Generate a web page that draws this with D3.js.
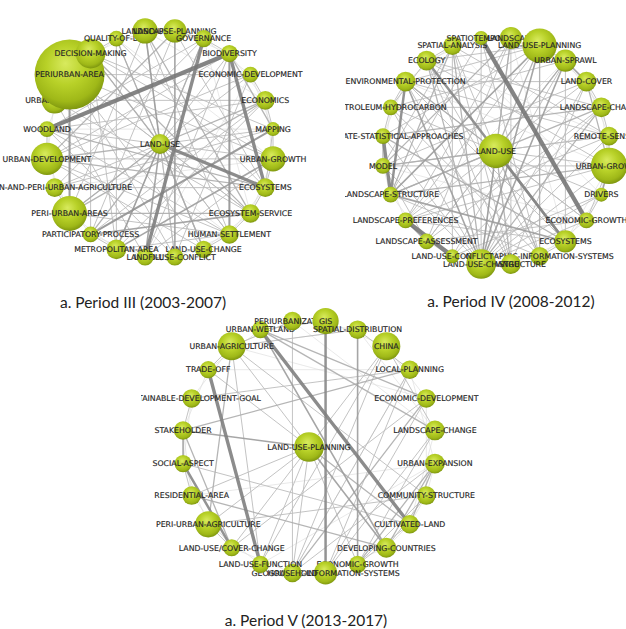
<!DOCTYPE html>
<html>
<head>
<meta charset="utf-8">
<script src="https://cdn.jsdelivr.net/npm/d3@7"></script>
<style>
  html, body { margin: 0; padding: 0; background: #fff; }
  svg { display: block; }
</style>
</head>
<body>
<svg id="chart" width="626" height="629"></svg>
<script>
// ---------- Period III (2003-2007) ----------
const periodIIIKeywords = [
  "ECOSYSTEMS", "ECOSYSTEM-SERVICE", "HUMAN-SETTLEMENT", "LAND-USE-CHANGE",
  "LAND-USE-CONFLICT", "LANDFILL", "METROPOLITAN-AREA", "PARTICIPATORY-PROCESS",
  "PERI-URBAN-AREAS", "URBAN-AND-PERI-URBAN-AGRICULTURE", "URBAN-DEVELOPMENT", "WOODLAND",
  "URBANIZATION", "PERIURBAN-AREA", "DECISION-MAKING", "QUALITY-OF-LIFE",
  "LANDSCAPE", "LAND-USE-PLANNING", "GOVERNANCE", "BIODIVERSITY",
  "ECONOMIC-DEVELOPMENT", "ECONOMICS", "MAPPING", "URBAN-GROWTH"
];
const periodIIIFrequency = [7, 7, 7, 6, 6, 6, 8, 5, 25, 7, 21, 5, 14, 100, 18, 5, 13, 11, 6, 6, 5, 7, 4, 13];
const periodIIIHub = "LAND-USE";
const periodIIIHubFrequency = 8;
const periodIIILinks = [
  ["WOODLAND", "BIODIVERSITY", 5], ["GOVERNANCE", "LANDFILL", 4], ["BIODIVERSITY", "ECOSYSTEMS", 4],
  ["LAND-USE", "ECOSYSTEMS", 4], ["BIODIVERSITY", "HUMAN-SETTLEMENT", 2.5], ["PERIURBAN-AREA", "PERI-URBAN-AREAS", 2.5],
  ["LAND-USE-PLANNING", "LAND-USE-CONFLICT", 2], ["MAPPING", "PARTICIPATORY-PROCESS", 2.5],
  ["URBAN-GROWTH", "METROPOLITAN-AREA", 2], ["ECOSYSTEM-SERVICE", "PARTICIPATORY-PROCESS", 2],
  ["LAND-USE", "METROPOLITAN-AREA", 2], ["LAND-USE", "LANDFILL", 2], ["LAND-USE", "LANDSCAPE", 2],
  ["LAND-USE", "DECISION-MAKING", 1.5], ["LAND-USE", "PERI-URBAN-AREAS", 1.5], ["LAND-USE", "URBAN-DEVELOPMENT", 1.5],
  ["LAND-USE", "LAND-USE-CHANGE", 1.5], ["LAND-USE", "GOVERNANCE", 1.5], ["LAND-USE", "ECONOMICS", 1.5],
  ["LAND-USE", "WOODLAND", 1], ["LAND-USE", "PARTICIPATORY-PROCESS", 1.5], ["LAND-USE", "LAND-USE-CONFLICT", 1],
  ["LAND-USE", "URBAN-GROWTH", 1], ["LAND-USE", "MAPPING", 1], ["LAND-USE", "BIODIVERSITY", 1],
  ["LAND-USE", "HUMAN-SETTLEMENT", 1], ["LAND-USE", "ECOSYSTEM-SERVICE", 1], ["LAND-USE", "URBAN-AND-PERI-URBAN-AGRICULTURE", 1],
  ["LAND-USE", "PERIURBAN-AREA", 1], ["LAND-USE", "QUALITY-OF-LIFE", 1],
  ["URBAN-DEVELOPMENT", "ECOSYSTEMS", 1.5], ["PERI-URBAN-AREAS", "ECONOMICS", 1.5], ["DECISION-MAKING", "ECOSYSTEM-SERVICE", 1.5],
  ["DECISION-MAKING", "HUMAN-SETTLEMENT", 1], ["QUALITY-OF-LIFE", "LAND-USE-CHANGE", 1.5], ["QUALITY-OF-LIFE", "METROPOLITAN-AREA", 1],
  ["LANDSCAPE", "ECOSYSTEM-SERVICE", 1.5], ["LANDSCAPE", "HUMAN-SETTLEMENT", 1], ["LANDSCAPE", "PERI-URBAN-AREAS", 1],
  ["LAND-USE-PLANNING", "URBAN-DEVELOPMENT", 1.5], ["LAND-USE-PLANNING", "PARTICIPATORY-PROCESS", 1], ["LAND-USE-PLANNING", "ECOSYSTEMS", 1],
  ["GOVERNANCE", "URBAN-AND-PERI-URBAN-AGRICULTURE", 1], ["GOVERNANCE", "WOODLAND", 1], ["BIODIVERSITY", "URBAN-DEVELOPMENT", 1],
  ["BIODIVERSITY", "MAPPING", 1.5], ["ECONOMIC-DEVELOPMENT", "PERI-URBAN-AREAS", 1], ["ECONOMIC-DEVELOPMENT", "URBAN-DEVELOPMENT", 1],
  ["ECONOMIC-DEVELOPMENT", "LAND-USE-CONFLICT", 1], ["ECONOMICS", "WOODLAND", 1], ["ECONOMICS", "METROPOLITAN-AREA", 1],
  ["MAPPING", "URBAN-AND-PERI-URBAN-AGRICULTURE", 1], ["MAPPING", "ECOSYSTEMS", 1], ["URBAN-GROWTH", "PERIURBAN-AREA", 1],
  ["URBAN-GROWTH", "URBAN-DEVELOPMENT", 1], ["URBAN-GROWTH", "LANDFILL", 1], ["ECOSYSTEMS", "WOODLAND", 1.5],
  ["ECOSYSTEMS", "URBAN-AND-PERI-URBAN-AGRICULTURE", 1], ["ECOSYSTEM-SERVICE", "PERI-URBAN-AREAS", 1.5], ["ECOSYSTEM-SERVICE", "URBANIZATION", 1],
  ["HUMAN-SETTLEMENT", "PERI-URBAN-AREAS", 1], ["HUMAN-SETTLEMENT", "METROPOLITAN-AREA", 1], ["LAND-USE-CHANGE", "PERIURBAN-AREA", 1],
  ["LAND-USE-CHANGE", "URBAN-DEVELOPMENT", 1], ["LAND-USE-CONFLICT", "PERIURBAN-AREA", 1], ["LAND-USE-CONFLICT", "WOODLAND", 1],
  ["LANDFILL", "URBANIZATION", 1], ["METROPOLITAN-AREA", "DECISION-MAKING", 1], ["PARTICIPATORY-PROCESS", "DECISION-MAKING", 1],
  ["DECISION-MAKING", "URBAN-GROWTH", 1], ["DECISION-MAKING", "MAPPING", 1], ["PERIURBAN-AREA", "ECONOMIC-DEVELOPMENT", 1],
  ["PERIURBAN-AREA", "ECOSYSTEM-SERVICE", 1], ["URBANIZATION", "ECONOMICS", 1], ["URBAN-DEVELOPMENT", "HUMAN-SETTLEMENT", 1],
  ["WOODLAND", "HUMAN-SETTLEMENT", 1], ["QUALITY-OF-LIFE", "ECOSYSTEMS", 1], ["LANDSCAPE", "LAND-USE-CONFLICT", 1],
  ["GOVERNANCE", "METROPOLITAN-AREA", 1], ["BIODIVERSITY", "LANDFILL", 1], ["ECONOMICS", "PARTICIPATORY-PROCESS", 1],
  ["LAND-USE-PLANNING", "GOVERNANCE", 1], ["GOVERNANCE", "BIODIVERSITY", 1], ["ECONOMIC-DEVELOPMENT", "ECONOMICS", 1],
  ["ECONOMICS", "MAPPING", 1], ["MAPPING", "URBAN-GROWTH", 1], ["URBAN-GROWTH", "ECOSYSTEMS", 1],
  ["ECOSYSTEMS", "ECOSYSTEM-SERVICE", 1], ["ECOSYSTEM-SERVICE", "HUMAN-SETTLEMENT", 1], ["HUMAN-SETTLEMENT", "LAND-USE-CHANGE", 1],
  ["METROPOLITAN-AREA", "PARTICIPATORY-PROCESS", 1], ["PERI-URBAN-AREAS", "URBAN-AND-PERI-URBAN-AGRICULTURE", 1],
  ["URBAN-DEVELOPMENT", "WOODLAND", 1], ["DECISION-MAKING", "QUALITY-OF-LIFE", 1], ["LANDSCAPE", "LAND-USE-PLANNING", 1],
  ["LAND-USE-PLANNING", "BIODIVERSITY", 0.5], ["GOVERNANCE", "ECONOMIC-DEVELOPMENT", 0.5], ["BIODIVERSITY", "ECONOMICS", 0.5],
  ["ECONOMIC-DEVELOPMENT", "MAPPING", 0.5], ["ECONOMICS", "URBAN-GROWTH", 0.5], ["URBAN-GROWTH", "ECOSYSTEM-SERVICE", 0.5],
  ["ECOSYSTEMS", "HUMAN-SETTLEMENT", 0.5], ["ECOSYSTEM-SERVICE", "LAND-USE-CHANGE", 0.5], ["HUMAN-SETTLEMENT", "LAND-USE-CONFLICT", 0.5],
  ["LAND-USE-CHANGE", "LANDFILL", 0.5], ["LAND-USE-CONFLICT", "METROPOLITAN-AREA", 0.5], ["LANDFILL", "PARTICIPATORY-PROCESS", 0.5],
  ["METROPOLITAN-AREA", "PERI-URBAN-AREAS", 0.5], ["PARTICIPATORY-PROCESS", "URBAN-AND-PERI-URBAN-AGRICULTURE", 0.5],
  ["PERI-URBAN-AREAS", "URBAN-DEVELOPMENT", 0.5], ["URBAN-AND-PERI-URBAN-AGRICULTURE", "WOODLAND", 0.5],
  ["URBAN-DEVELOPMENT", "URBANIZATION", 0.5], ["WOODLAND", "PERIURBAN-AREA", 0.5], ["URBANIZATION", "DECISION-MAKING", 0.5],
  ["PERIURBAN-AREA", "QUALITY-OF-LIFE", 0.5], ["DECISION-MAKING", "LANDSCAPE", 0.5], ["QUALITY-OF-LIFE", "LAND-USE-PLANNING", 0.5],
  ["LANDSCAPE", "GOVERNANCE", 0.5], ["LANDSCAPE", "ECONOMICS", 0.5], ["QUALITY-OF-LIFE", "URBAN-GROWTH", 0.5],
  ["GOVERNANCE", "ECOSYSTEM-SERVICE", 0.5], ["ECONOMIC-DEVELOPMENT", "LANDFILL", 0.5], ["MAPPING", "WOODLAND", 0.5],
  ["URBAN-GROWTH", "URBAN-AND-PERI-URBAN-AGRICULTURE", 0.5], ["HUMAN-SETTLEMENT", "URBANIZATION", 0.5]
];

// ---------- Period IV (2008-2012) ----------
const periodIVKeywords = [
  "DRIVERS", "ECONOMIC-GROWTH", "ECOSYSTEMS", "GEOGRAPHIC-INFORMATION-SYSTEMS",
  "INFRASTRUCTURE", "LAND-USE-CHANGE", "LAND-USE-CONFLICT", "LANDSCAPE-ASSESSMENT",
  "LANDSCAPE-PREFERENCES", "LANDSCAPE-STRUCTURE", "MODEL", "MULTIVARIATE-STATISTICAL-APPROACHES",
  "PETROLEUM-HYDROCARBON", "ENVIRONMENTAL-PROTECTION", "ECOLOGY", "SPATIAL-ANALYSIS",
  "SPATIOTEMPORAL", "LANDSCAPE", "LAND-USE-PLANNING", "URBAN-SPRAWL",
  "LAND-COVER", "LANDSCAPE-CHANGE", "REMOTE-SENSING", "URBAN-GROWTH"
];
const periodIVFrequency = [4, 5, 10, 7, 8, 18, 4, 5, 5, 5, 5, 5, 5, 8, 8, 7, 4, 10, 24, 10, 8, 8, 7, 27];
const periodIVHub = "LAND-USE";
const periodIVHubFrequency = 24;
const periodIVLinks = [
  ["SPATIOTEMPORAL", "ECONOMIC-GROWTH", 5], ["LANDSCAPE-PREFERENCES", "LAND-USE-CONFLICT", 5],
  ["MULTIVARIATE-STATISTICAL-APPROACHES", "LANDSCAPE-STRUCTURE", 4], ["ENVIRONMENTAL-PROTECTION", "LANDSCAPE-STRUCTURE", 3],
  ["ECOLOGY", "ECOSYSTEMS", 3], ["LAND-USE", "ECOSYSTEMS", 3], ["LANDSCAPE-STRUCTURE", "ECOSYSTEMS", 2],
  ["LAND-USE-PLANNING", "LANDSCAPE-STRUCTURE", 2], ["LAND-USE-CHANGE", "LAND-USE", 2], ["LAND-USE-CHANGE", "ENVIRONMENTAL-PROTECTION", 2],
  ["LAND-USE-CHANGE", "URBAN-SPRAWL", 2], ["LAND-USE-CHANGE", "LANDSCAPE-CHANGE", 1.5], ["LAND-USE-CHANGE", "LAND-USE-PLANNING", 2],
  ["LAND-USE-CHANGE", "SPATIAL-ANALYSIS", 1.5], ["LAND-USE-CHANGE", "ECOLOGY", 1.5], ["LANDSCAPE-CHANGE", "MULTIVARIATE-STATISTICAL-APPROACHES", 1.5],
  ["LANDSCAPE-CHANGE", "PETROLEUM-HYDROCARBON", 1], ["URBAN-SPRAWL", "LAND-COVER", 2], ["URBAN-GROWTH", "DRIVERS", 2],
  ["URBAN-GROWTH", "LAND-COVER", 1.5], ["URBAN-GROWTH", "LANDSCAPE-STRUCTURE", 1.5], ["URBAN-GROWTH", "MODEL", 1],
  ["LAND-USE", "LANDSCAPE", 1.5], ["LAND-USE", "LAND-USE-PLANNING", 1.5], ["LAND-USE", "URBAN-SPRAWL", 1.5],
  ["LAND-USE", "MODEL", 1.5], ["LAND-USE", "LANDSCAPE-STRUCTURE", 1.5], ["LAND-USE", "ENVIRONMENTAL-PROTECTION", 1.5],
  ["LAND-USE", "GEOGRAPHIC-INFORMATION-SYSTEMS", 1.5], ["LAND-USE", "INFRASTRUCTURE", 1.5], ["LAND-USE", "REMOTE-SENSING", 1],
  ["LAND-USE", "URBAN-GROWTH", 1], ["LAND-USE", "LANDSCAPE-ASSESSMENT", 1], ["LAND-USE", "SPATIAL-ANALYSIS", 1],
  ["LAND-USE", "ECONOMIC-GROWTH", 1], ["ECOLOGY", "PETROLEUM-HYDROCARBON", 1], ["ECOLOGY", "LANDSCAPE-CHANGE", 1],
  ["ECOLOGY", "URBAN-GROWTH", 1], ["SPATIAL-ANALYSIS", "LANDSCAPE-STRUCTURE", 1.5], ["SPATIAL-ANALYSIS", "REMOTE-SENSING", 1],
  ["SPATIAL-ANALYSIS", "MODEL", 1], ["LANDSCAPE", "MODEL", 1.5], ["LANDSCAPE", "LANDSCAPE-ASSESSMENT", 1],
  ["LANDSCAPE", "INFRASTRUCTURE", 1], ["LAND-USE-PLANNING", "LANDSCAPE-PREFERENCES", 1], ["LAND-USE-PLANNING", "GEOGRAPHIC-INFORMATION-SYSTEMS", 1.5],
  ["LAND-USE-PLANNING", "MULTIVARIATE-STATISTICAL-APPROACHES", 1], ["LAND-USE-PLANNING", "ENVIRONMENTAL-PROTECTION", 1],
  ["URBAN-SPRAWL", "LANDSCAPE-ASSESSMENT", 1], ["URBAN-SPRAWL", "ECOSYSTEMS", 1], ["LAND-COVER", "LANDSCAPE-PREFERENCES", 1],
  ["LAND-COVER", "MODEL", 1], ["LAND-COVER", "INFRASTRUCTURE", 1], ["LANDSCAPE-CHANGE", "LANDSCAPE-STRUCTURE", 1.5],
  ["LANDSCAPE-CHANGE", "LAND-USE-CONFLICT", 1], ["REMOTE-SENSING", "ENVIRONMENTAL-PROTECTION", 1], ["REMOTE-SENSING", "LANDSCAPE-PREFERENCES", 1],
  ["DRIVERS", "PETROLEUM-HYDROCARBON", 1], ["DRIVERS", "LAND-USE-CONFLICT", 1], ["ECONOMIC-GROWTH", "ENVIRONMENTAL-PROTECTION", 1],
  ["ECONOMIC-GROWTH", "LANDSCAPE-ASSESSMENT", 1], ["ECOSYSTEMS", "MULTIVARIATE-STATISTICAL-APPROACHES", 1.5], ["ECOSYSTEMS", "LANDSCAPE-PREFERENCES", 1],
  ["GEOGRAPHIC-INFORMATION-SYSTEMS", "PETROLEUM-HYDROCARBON", 1], ["GEOGRAPHIC-INFORMATION-SYSTEMS", "SPATIOTEMPORAL", 1],
  ["INFRASTRUCTURE", "ECOLOGY", 1], ["INFRASTRUCTURE", "ENVIRONMENTAL-PROTECTION", 1], ["LAND-USE-CONFLICT", "SPATIAL-ANALYSIS", 1],
  ["LAND-USE-CONFLICT", "URBAN-SPRAWL", 1], ["LANDSCAPE-ASSESSMENT", "MODEL", 1], ["LANDSCAPE-PREFERENCES", "LANDSCAPE-ASSESSMENT", 2],
  ["MODEL", "MULTIVARIATE-STATISTICAL-APPROACHES", 1.5], ["PETROLEUM-HYDROCARBON", "ENVIRONMENTAL-PROTECTION", 1],
  ["PETROLEUM-HYDROCARBON", "MULTIVARIATE-STATISTICAL-APPROACHES", 1], ["ECOLOGY", "SPATIAL-ANALYSIS", 1], ["SPATIOTEMPORAL", "LANDSCAPE", 1],
  ["LANDSCAPE-CHANGE", "REMOTE-SENSING", 1], ["REMOTE-SENSING", "URBAN-GROWTH", 1], ["DRIVERS", "ECONOMIC-GROWTH", 1],
  ["ECOSYSTEMS", "GEOGRAPHIC-INFORMATION-SYSTEMS", 1], ["INFRASTRUCTURE", "LAND-USE-CHANGE", 1],
  ["LAND-USE-CHANGE", "URBAN-GROWTH", 1], ["LAND-USE-CHANGE", "LAND-COVER", 1], ["LAND-USE-CHANGE", "MODEL", 1],
  ["LAND-USE-CHANGE", "REMOTE-SENSING", 1], ["LAND-USE-CHANGE", "LANDSCAPE", 1], ["GEOGRAPHIC-INFORMATION-SYSTEMS", "LANDSCAPE-STRUCTURE", 1],
  ["URBAN-SPRAWL", "LAND-USE-PLANNING", 1], ["LAND-COVER", "LANDSCAPE-CHANGE", 1], ["URBAN-GROWTH", "ECONOMIC-GROWTH", 1],
  ["LAND-USE-CHANGE", "ECONOMIC-GROWTH", 1], ["LAND-USE-CHANGE", "DRIVERS", 1], ["LAND-USE-CHANGE", "MULTIVARIATE-STATISTICAL-APPROACHES", 1],
  ["LAND-USE-CHANGE", "PETROLEUM-HYDROCARBON", 1], ["LAND-USE-CHANGE", "SPATIOTEMPORAL", 1], ["GEOGRAPHIC-INFORMATION-SYSTEMS", "ECOLOGY", 1],
  ["INFRASTRUCTURE", "SPATIAL-ANALYSIS", 1], ["ECOSYSTEMS", "ENVIRONMENTAL-PROTECTION", 1], ["LANDSCAPE-ASSESSMENT", "LANDSCAPE-CHANGE", 1],
  ["LANDSCAPE-PREFERENCES", "URBAN-GROWTH", 1], ["MODEL", "REMOTE-SENSING", 1], ["PETROLEUM-HYDROCARBON", "URBAN-SPRAWL", 1],
  ["ENVIRONMENTAL-PROTECTION", "LAND-COVER", 1], ["ECOLOGY", "LAND-USE-PLANNING", 1], ["SPATIOTEMPORAL", "LANDSCAPE-STRUCTURE", 1],
  ["LANDSCAPE", "LANDSCAPE-PREFERENCES", 1],
  ["DRIVERS", "ECOSYSTEMS", 0.5], ["ECONOMIC-GROWTH", "GEOGRAPHIC-INFORMATION-SYSTEMS", 0.5], ["ECOSYSTEMS", "INFRASTRUCTURE", 0.5],
  ["GEOGRAPHIC-INFORMATION-SYSTEMS", "LAND-USE-CHANGE", 0.5], ["LAND-USE-CHANGE", "LANDSCAPE-ASSESSMENT", 0.5], ["LAND-USE-CONFLICT", "LANDSCAPE-ASSESSMENT", 0.5],
  ["LANDSCAPE-ASSESSMENT", "LANDSCAPE-STRUCTURE", 0.5], ["LANDSCAPE-PREFERENCES", "MODEL", 0.5], ["LANDSCAPE-STRUCTURE", "MODEL", 0.5],
  ["MODEL", "PETROLEUM-HYDROCARBON", 0.5], ["MULTIVARIATE-STATISTICAL-APPROACHES", "ENVIRONMENTAL-PROTECTION", 0.5],
  ["PETROLEUM-HYDROCARBON", "ECOLOGY", 0.5], ["ENVIRONMENTAL-PROTECTION", "SPATIAL-ANALYSIS", 0.5], ["ECOLOGY", "SPATIOTEMPORAL", 0.5],
  ["SPATIAL-ANALYSIS", "LANDSCAPE", 0.5], ["SPATIOTEMPORAL", "LAND-USE-PLANNING", 0.5], ["LANDSCAPE", "URBAN-SPRAWL", 0.5],
  ["LAND-USE-PLANNING", "LAND-COVER", 0.5], ["URBAN-SPRAWL", "LANDSCAPE-CHANGE", 0.5], ["LAND-COVER", "REMOTE-SENSING", 0.5],
  ["LANDSCAPE-CHANGE", "URBAN-GROWTH", 0.5], ["REMOTE-SENSING", "DRIVERS", 0.5], ["URBAN-GROWTH", "ECOSYSTEMS", 0.5],
  ["LANDSCAPE", "ECOSYSTEMS", 0.5], ["SPATIAL-ANALYSIS", "DRIVERS", 0.5], ["ECOLOGY", "REMOTE-SENSING", 0.5],
  ["ENVIRONMENTAL-PROTECTION", "URBAN-GROWTH", 0.5], ["MODEL", "ECONOMIC-GROWTH", 0.5], ["LANDSCAPE-PREFERENCES", "URBAN-SPRAWL", 0.5]
];

// ---------- Period V (2013-2017) ----------
const periodVKeywords = [
  "COMMUNITY-STRUCTURE", "CULTIVATED-LAND", "DEVELOPING-COUNTRIES", "ECONOMIC-GROWTH",
  "GEOGRAPHIC-INFORMATION-SYSTEMS", "HOUSEHOLD", "LAND-USE-FUNCTION", "LAND-USE/COVER-CHANGE",
  "PERI-URBAN-AGRICULTURE", "RESIDENTIAL-AREA", "SOCIAL-ASPECT", "STAKEHOLDER",
  "SUSTAINABLE-DEVELOPMENT-GOAL", "TRADE-OFF", "URBAN-AGRICULTURE", "URBAN-WETLAND",
  "PERIURBANIZATION", "GIS", "SPATIAL-DISTRIBUTION", "CHINA",
  "LOCAL-PLANNING", "ECONOMIC-DEVELOPMENT", "LANDSCAPE-CHANGE", "URBAN-EXPANSION"
];
const periodVFrequency = [7, 7, 8, 6, 11, 7, 6, 6, 14, 7, 6, 7, 7, 6, 16, 6, 7, 14, 7, 16, 7, 7, 8, 8];
const periodVHub = "LAND-USE-PLANNING";
const periodVHubFrequency = 18;
const periodVLinks = [
  ["GIS", "GEOGRAPHIC-INFORMATION-SYSTEMS", 3], ["SPATIAL-DISTRIBUTION", "ECONOMIC-GROWTH", 2],
  ["TRADE-OFF", "LAND-USE-FUNCTION", 4], ["URBAN-WETLAND", "CULTIVATED-LAND", 4], ["URBAN-WETLAND", "DEVELOPING-COUNTRIES", 2],
  ["SOCIAL-ASPECT", "LAND-USE/COVER-CHANGE", 3], ["STAKEHOLDER", "LAND-USE-PLANNING", 2], ["STAKEHOLDER", "SOCIAL-ASPECT", 2],
  ["STAKEHOLDER", "LAND-USE/COVER-CHANGE", 1.5], ["LOCAL-PLANNING", "STAKEHOLDER", 1.5], ["URBAN-WETLAND", "LANDSCAPE-CHANGE", 1.5],
  ["URBAN-EXPANSION", "ECONOMIC-GROWTH", 1.5], ["URBAN-EXPANSION", "DEVELOPING-COUNTRIES", 1.5], ["URBAN-EXPANSION", "HOUSEHOLD", 1],
  ["URBAN-EXPANSION", "CULTIVATED-LAND", 1.5], ["ECONOMIC-DEVELOPMENT", "HOUSEHOLD", 1.5], ["ECONOMIC-DEVELOPMENT", "GEOGRAPHIC-INFORMATION-SYSTEMS", 1],
  ["LAND-USE-PLANNING", "DEVELOPING-COUNTRIES", 2], ["LAND-USE-PLANNING", "CULTIVATED-LAND", 1.5], ["LAND-USE-PLANNING", "ECONOMIC-GROWTH", 1],
  ["LAND-USE-PLANNING", "URBAN-AGRICULTURE", 1], ["LAND-USE-PLANNING", "PERI-URBAN-AGRICULTURE", 1], ["LAND-USE-PLANNING", "LAND-USE-FUNCTION", 1],
  ["LAND-USE-PLANNING", "HOUSEHOLD", 1], ["LAND-USE-PLANNING", "CHINA", 1], ["LAND-USE-PLANNING", "RESIDENTIAL-AREA", 1],
  ["LAND-USE-PLANNING", "LAND-USE/COVER-CHANGE", 1], ["LAND-USE-PLANNING", "TRADE-OFF", 1], ["RESIDENTIAL-AREA", "DEVELOPING-COUNTRIES", 1.5],
  ["URBAN-AGRICULTURE", "PERI-URBAN-AGRICULTURE", 1.5], ["URBAN-AGRICULTURE", "LAND-USE-FUNCTION", 1], ["URBAN-AGRICULTURE", "COMMUNITY-STRUCTURE", 1],
  ["SUSTAINABLE-DEVELOPMENT-GOAL", "STAKEHOLDER", 1], ["SUSTAINABLE-DEVELOPMENT-GOAL", "LOCAL-PLANNING", 1],
  ["PERI-URBAN-AGRICULTURE", "COMMUNITY-STRUCTURE", 1], ["PERI-URBAN-AGRICULTURE", "LAND-USE/COVER-CHANGE", 1],
  ["CHINA", "LAND-USE-FUNCTION", 1], ["CHINA", "HOUSEHOLD", 1], ["CHINA", "LANDSCAPE-CHANGE", 1], ["LOCAL-PLANNING", "HOUSEHOLD", 1],
  ["LOCAL-PLANNING", "GEOGRAPHIC-INFORMATION-SYSTEMS", 1], ["LANDSCAPE-CHANGE", "ECONOMIC-GROWTH", 1],
  ["LANDSCAPE-CHANGE", "GEOGRAPHIC-INFORMATION-SYSTEMS", 1], ["COMMUNITY-STRUCTURE", "ECONOMIC-GROWTH", 1],
  ["COMMUNITY-STRUCTURE", "DEVELOPING-COUNTRIES", 1], ["CULTIVATED-LAND", "ECONOMIC-GROWTH", 1], ["SOCIAL-ASPECT", "RESIDENTIAL-AREA", 1],
  ["SOCIAL-ASPECT", "CULTIVATED-LAND", 1], ["TRADE-OFF", "URBAN-AGRICULTURE", 1], ["PERIURBANIZATION", "HOUSEHOLD", 1],
  ["PERIURBANIZATION", "URBAN-AGRICULTURE", 1], ["SPATIAL-DISTRIBUTION", "URBAN-AGRICULTURE", 1], ["GIS", "URBAN-WETLAND", 1],
  ["SPATIAL-DISTRIBUTION", "LOCAL-PLANNING", 1], ["ECONOMIC-DEVELOPMENT", "LAND-USE/COVER-CHANGE", 1], ["URBAN-WETLAND", "ECONOMIC-DEVELOPMENT", 1.5],
  ["GIS", "CHINA", 0.5], ["SPATIAL-DISTRIBUTION", "LANDSCAPE-CHANGE", 0.5], ["CHINA", "ECONOMIC-DEVELOPMENT", 0.5],
  ["LOCAL-PLANNING", "URBAN-EXPANSION", 0.5], ["ECONOMIC-DEVELOPMENT", "COMMUNITY-STRUCTURE", 0.5], ["LANDSCAPE-CHANGE", "CULTIVATED-LAND", 0.5],
  ["URBAN-EXPANSION", "COMMUNITY-STRUCTURE", 0.5], ["COMMUNITY-STRUCTURE", "CULTIVATED-LAND", 0.5], ["CULTIVATED-LAND", "DEVELOPING-COUNTRIES", 0.5],
  ["DEVELOPING-COUNTRIES", "GEOGRAPHIC-INFORMATION-SYSTEMS", 0.5], ["ECONOMIC-GROWTH", "HOUSEHOLD", 0.5], ["HOUSEHOLD", "LAND-USE/COVER-CHANGE", 0.5],
  ["LAND-USE-FUNCTION", "PERI-URBAN-AGRICULTURE", 0.5], ["LAND-USE/COVER-CHANGE", "RESIDENTIAL-AREA", 0.5], ["PERI-URBAN-AGRICULTURE", "SOCIAL-ASPECT", 0.5],
  ["RESIDENTIAL-AREA", "STAKEHOLDER", 0.5], ["SOCIAL-ASPECT", "SUSTAINABLE-DEVELOPMENT-GOAL", 0.5], ["STAKEHOLDER", "TRADE-OFF", 0.5],
  ["SUSTAINABLE-DEVELOPMENT-GOAL", "URBAN-AGRICULTURE", 0.5], ["TRADE-OFF", "URBAN-WETLAND", 0.5], ["URBAN-AGRICULTURE", "PERIURBANIZATION", 0.5],
  ["URBAN-WETLAND", "GIS", 0.5], ["PERIURBANIZATION", "SPATIAL-DISTRIBUTION", 0.5], ["URBAN-AGRICULTURE", "SPATIAL-DISTRIBUTION", 0.5],
  ["URBAN-AGRICULTURE", "ECONOMIC-DEVELOPMENT", 0.5], ["TRADE-OFF", "LOCAL-PLANNING", 0.5], ["PERIURBANIZATION", "LANDSCAPE-CHANGE", 0.5],
  ["RESIDENTIAL-AREA", "URBAN-EXPANSION", 0.5], ["LAND-USE-FUNCTION", "URBAN-EXPANSION", 0.5], ["HOUSEHOLD", "LOCAL-PLANNING", 0.5]
];

const panelTitles = ["a. Period III (2003-2007)", "a. Period IV (2008-2012)", "a. Period V (2013-2017)"];

// ---------- layout ----------
const panels = [
  { title: panelTitles[0], keywords: periodIIIKeywords, freq: periodIIIFrequency, hub: periodIIIHub, hubFreq: periodIIIHubFrequency,
    links: periodIIILinks, cx: 160, cy: 144, R: 114, clip: [0, 0, 322, 278], tx: 143, ty: 308 },
  { title: panelTitles[1], keywords: periodIVKeywords, freq: periodIVFrequency, hub: periodIVHub, hubFreq: periodIVHubFrequency,
    links: periodIVLinks, cx: 496, cy: 151, R: 114, clip: [345, 0, 281, 282], tx: 511, ty: 307 },
  { title: panelTitles[2], keywords: periodVKeywords, freq: periodVFrequency, hub: periodVHub, hubFreq: periodVHubFrequency,
    links: periodVLinks, cx: 309, cy: 447, R: 127, clip: [141, 303, 338, 289], tx: 306, ty: 626 }
];

const svg = d3.select("#chart");
const defs = svg.append("defs");

const grad = defs.append("radialGradient")
  .attr("id", "sphere").attr("cx", "46%").attr("cy", "40%").attr("r", "62%")
  .attr("fx", "44%").attr("fy", "34%");
grad.append("stop").attr("offset", "0%").attr("stop-color", "#d8ea5e");
grad.append("stop").attr("offset", "45%").attr("stop-color", "#b8d128");
grad.append("stop").attr("offset", "80%").attr("stop-color", "#9fb818");
grad.append("stop").attr("offset", "100%").attr("stop-color", "#7a920e");

const radius = d3.scaleSqrt().domain([0, 100]).range([0, 35]);
const linkWidth = d3.scaleLinear().domain([0.5, 1, 2, 3, 5]).range([0.7, 1.0, 1.6, 2.5, 4.3]);
const linkColor = d3.scaleLinear().domain([0.5, 1, 2, 3, 5])
  .range(["#dcdcdc", "#bdbdbd", "#9c9c9c", "#878787", "#777777"]);

panels.forEach((p, pi) => {
  const n = p.keywords.length;
  // clockwise ring, angle in degrees measured from 12 o'clock
  const angle = d3.scaleLinear().domain([0, n]).range([112.5, 472.5]);

  const nodes = p.keywords.map((k, i) => {
    const a = angle(i) * Math.PI / 180;
    return { id: k, freq: p.freq[i], x: p.cx + p.R * Math.sin(a), y: p.cy - p.R * Math.cos(a) };
  });
  const hub = { id: p.hub, freq: p.hubFreq, x: p.cx, y: p.cy };
  const byId = new Map(nodes.map(d => [d.id, d]));
  byId.set(hub.id, hub);

  defs.append("clipPath").attr("id", "clip" + pi)
    .append("rect").attr("x", p.clip[0]).attr("y", p.clip[1]).attr("width", p.clip[2]).attr("height", p.clip[3]);

  const g = svg.append("g").attr("clip-path", `url(#clip${pi})`);

  const links = p.links.map(([s, t, w]) => ({ s: byId.get(s), t: byId.get(t), w }))
    .filter(l => l.s && l.t)
    .sort((a, b) => a.w - b.w);

  g.append("g").selectAll("line").data(links).join("line")
    .attr("x1", d => d.s.x).attr("y1", d => d.s.y)
    .attr("x2", d => d.t.x).attr("y2", d => d.t.y)
    .attr("stroke", d => linkColor(d.w))
    .attr("stroke-width", d => linkWidth(d.w))
    .attr("stroke-opacity", 0.9)
    .attr("stroke-linecap", "round");

  const nodeG = g.append("g").selectAll("g").data([hub, ...nodes]).join("g")
    .attr("transform", d => `translate(${d.x},${d.y})`);

  nodeG.append("circle")
    .attr("r", d => radius(d.freq))
    .attr("fill", "url(#sphere)");

  nodeG.append("text")
    .attr("text-anchor", "middle")
    .attr("dy", "0.36em")
    .attr("font-family", "DejaVu Sans, Verdana, sans-serif")
    .attr("font-size", 7.8)
    .attr("fill", "#262626")
    .attr("stroke", "#262626")
    .attr("stroke-width", 0.15)
    .text(d => d.id);

  svg.append("text")
    .attr("x", p.tx).attr("y", p.ty)
    .attr("text-anchor", "middle")
    .attr("font-family", "Lato, 'Open Sans', sans-serif")
    .attr("font-size", 15.5)
    .attr("fill", "#222")
    .text(p.title);
});
</script>
</body>
</html>
